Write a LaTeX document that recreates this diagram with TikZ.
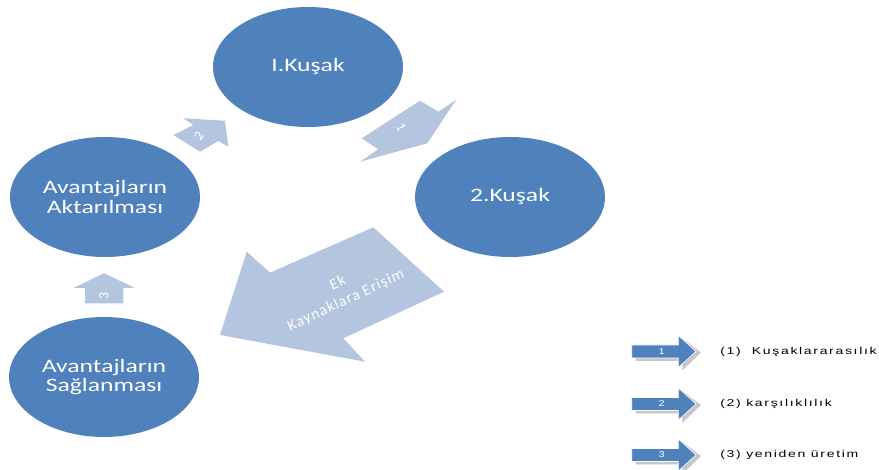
\documentclass[tikz,border=0pt]{standalone}
\usepackage{fontspec}
\setmainfont{Carlito}
\newfontfamily\legfont[LetterSpace=12]{Liberation Sans}
\newfontfamily\numfont{Liberation Sans}
\newfontfamily\ekfont[LetterSpace=7]{Carlito}
\usetikzlibrary{shapes.geometric}
\definecolor{eblue}{RGB}{79,129,189}
\definecolor{lblue}{RGB}{180,197,224}
\definecolor{shadowgray}{RGB}{196,198,204}
\begin{document}
\begin{tikzpicture}[x=1pt,y=-1pt,
  gen/.style={ellipse, fill=eblue, minimum width=140.7pt, minimum height=120pt,
    inner sep=0pt, xscale=1.35, text=white, align=center,
    font=\fontsize{19}{19.5}\selectfont},
  blockarrow/.style={fill=lblue},
  arrnum/.style={text=white, font=\fontsize{14}{14}\selectfont, inner sep=0pt},
  legshadow/.style={fill=shadowgray},
  legarrowfill/.style={fill=eblue, draw=white, line width=0.6pt},
  legnum/.style={text=white, font=\numfont\fontsize{8.5}{8.5}\selectfont, inner sep=0pt, xscale=1.3},
  legtext/.style={anchor=west, inner sep=0pt, xscale=1.4, text=black,
    font=\legfont\fontsize{10}{10}\selectfont}]
\useasboundingbox (0,0) rectangle (879,470);
\fill[white] (0,0) rectangle (879,470);

% ellipses
\node[gen] (g1) at (308,67) {I.Kuşak};
\node[gen] (g2) at (510,197) {2.Kuşak};
\node[gen] (a1) at (105,197) {Avantajların\\Aktarılması};
\node[gen] (a2) at (104,377) {Avantajların\\Sağlanması};

% arrow 1
\fill[blockarrow] (361.7,138.3) -- (420,100.7) -- (438.3,111.7) -- (456,100)
  -- (427.3,143.3) -- (360,161.7) -- (378.3,149.3) -- cycle;
\node[arrnum, rotate=-60] (n1) at (401,127) {1};

% arrow 2
\fill[blockarrow] (225,120.7) -- (228.3,146.7) -- (218.3,141) -- (200,151.7)
  -- (173.3,135) -- (193.3,125) -- (183.3,118.3) -- cycle;
\node[arrnum, rotate=55] (n2) at (199,136) {2};

% arrow 3
\fill[blockarrow] (104,273.3) -- (135,288) -- (123.3,288) -- (123.3,303.3)
  -- (85,303.3) -- (85,288) -- (73.3,288) -- cycle;
\node[arrnum, rotate=90] (n3) at (104,295.5) {3};

% big arrow
\fill[blockarrow] (220,335) -- (246.7,251.7) -- (270,272.7) -- (373.3,227.3)
  -- (444,291.7) -- (343.3,338.3) -- (365,361.7) -- cycle;
\node[text=white, align=center, inner sep=0pt, rotate=25,
  font=\ekfont\fontsize{15.5}{19}\selectfont] (ek) at (342,292) {Ek\\Kaynaklara Erişim};

% legend
\foreach \cy/\num/\lab [count=\i] in {351.5/1/{(1)\ \ Kuşaklararasılık},404/2/{(2) karşılıklılık},455/3/{(3) yeniden üretim}}{
  \fill[legshadow] (635.7,\cy-3.5) -- (682.3,\cy-3.5) -- (682.3,\cy-13) -- (701,\cy+1)
    -- (682.3,\cy+19) -- (682.3,\cy+9.5) -- (635.7,\cy+9.5) -- cycle;
  \filldraw[legarrowfill] (631.7,\cy-6.5) -- (678.3,\cy-6.5) -- (678.3,\cy-16) -- (696,\cy)
    -- (678.3,\cy+16) -- (678.3,\cy+6.5) -- (631.7,\cy+6.5) -- cycle;
  \node[legnum] (ln\i) at (661.7,\cy) {\num};
  \node[legtext] (lt\i) at (720,\cy) {\lab};
}
\end{tikzpicture}
\end{document}
